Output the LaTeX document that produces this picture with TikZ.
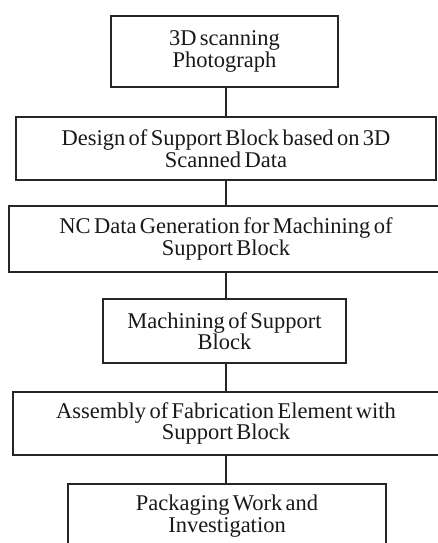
\documentclass[tikz,border=0pt]{standalone}
\usepackage{fontspec}
\setmainfont[WordSpace=0.6]{Liberation Serif}
\begin{document}
\begin{tikzpicture}[x=1pt,y=-1pt,
  box/.style={draw=black!85, line width=1.8pt, rectangle, inner sep=0pt, align=center,
    font=\fontsize{22.5}{21.5}\selectfont, text=black!90},
  link/.style={draw=black!85, line width=1.8pt}]
\useasboundingbox (0,0) rectangle (438,543);
\clip (0,0) rectangle (438,543);
\node[box, minimum width=227pt, minimum height=71pt] (b1) at (224.5,51.5) {3D scanning\\Photograph};
\node[box, minimum width=420pt, minimum height=63pt] (b2) at (226,148.5) {Design of Support Block based on 3D\\Scanned Data};
\node[box, minimum width=434pt, minimum height=66pt] (b3) at (226,239) {NC Data Generation for Machining of\\Support Block};
\node[box, minimum width=243pt, minimum height=64pt] (b4) at (224.5,331) {Machining of Support\\Block};
\node[box, minimum width=426pt, minimum height=63pt] (b5) at (226,423.5) {Assembly of Fabrication Element with\\Support Block};
\node[box, minimum width=318pt, minimum height=64pt] (b6) at (227,516) {Packaging Work and\\Investigation};
\draw[link] (b1.south -| b2.north) -- (b2.north);
\draw[link] (b2.south) -- (b3.north);
\draw[link] (b3.south) -- (b4.north -| b3.south);
\draw[link] (b4.south -| b3.south) -- (b5.north);
\draw[link] (b5.south) -- (b6.north -| b5.south);
\end{tikzpicture}
\end{document}
